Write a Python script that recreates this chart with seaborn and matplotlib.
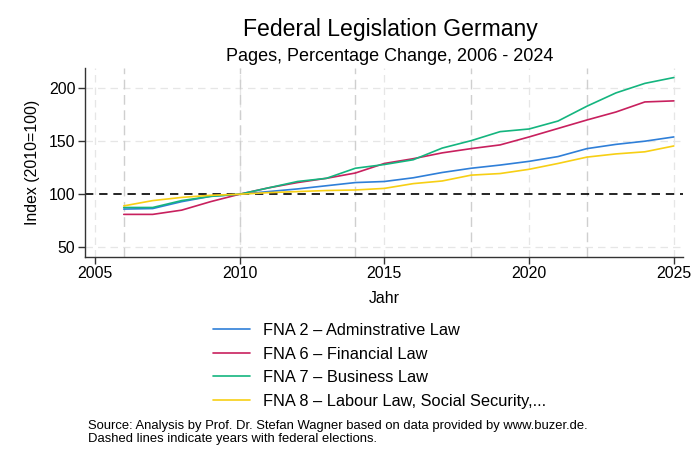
import numpy as np
import pandas as pd
import matplotlib
matplotlib.use("Agg")
import matplotlib.pyplot as plt
import seaborn as sns

years = list(range(2006, 2026))
fna2 = [86, 86.5, 93, 98, 100, 102.5, 105, 108, 111, 112, 115.5, 120.5, 124.5, 127.5, 131, 135.5, 143, 147, 150, 154]
fna6 = [81, 81, 85, 93, 100, 106, 111, 115, 120, 129, 133.5, 139, 143, 146.5, 154, 162, 170, 177.5, 187, 188]
fna7 = [87.5, 87.5, 94, 98, 100, 106, 112, 115, 124.5, 128, 132.5, 143.5, 150.5, 159, 161.5, 169, 183, 195.5, 204.5, 210]
fna8 = [89, 94, 97, 99, 100, 101.5, 102.5, 103.5, 104, 105.5, 110, 112.5, 118, 119.5, 123.5, 129, 135, 138, 140, 145.5]
series_names = ["FNA 2 \u2013 Adminstrative Law", "FNA 6 \u2013 Financial Law",
                "FNA 7 \u2013 Business Law", "FNA 8 \u2013 Labour Law, Social Security,..."]
election_years = [2006, 2010, 2014, 2018, 2022]
x_ticks = [2005, 2010, 2015, 2020, 2025]
y_ticks = [50, 100, 150, 200]
colors = ["#2f7fd8", "#c8205e", "#14b57f", "#f7cf14"]

df = pd.DataFrame({
    "Jahr": years * 4,
    "value": fna2 + fna6 + fna7 + fna8,
    "series": sum([[n] * len(years) for n in series_names], []),
})

sns.set_theme(style="white")
plt.rcParams["font.family"] = ["Liberation Sans", "DejaVu Sans"]
plt.rcParams["text.color"] = "black"
plt.rcParams["axes.labelcolor"] = "black"
plt.rcParams["xtick.color"] = "black"
plt.rcParams["ytick.color"] = "black"

fig = plt.figure(figsize=(7, 4.67), dpi=100)
ax = fig.add_axes([0.1214, 0.4503, 0.854, 0.4041])

for xt in x_ticks:
    ax.axvline(xt, color="#e6e6e6", lw=0.9, ls=(0, (6, 4)), zorder=0)
for yt in y_ticks:
    if yt != 100:
        ax.axhline(yt, color="#e6e6e6", lw=0.9, ls=(0, (6, 4)), zorder=0)
for ey in election_years:
    ax.axvline(ey, color="#cfcfcf", lw=1.0, ls=(0, (7, 4)), zorder=0.5)
ax.axhline(100, color="black", lw=1.2, ls=(0, (5, 3.5)), zorder=1)

sns.lineplot(data=df, x="Jahr", y="value", hue="series", palette=colors,
             hue_order=series_names, lw=1.2, ax=ax, legend=True, zorder=3)

ax.set_xlim(2004.66, 2025.31)
ax.set_ylim(41.1, 219)
ax.set_xticks(x_ticks)
ax.set_yticks(y_ticks)
ax.tick_params(axis="both", labelsize=11.4, length=5, width=1, color="#333333",
               labelcolor="black", direction="out", bottom=True, left=True, pad=2)
for s in ["top", "right"]:
    ax.spines[s].set_visible(False)
for s in ["left", "bottom"]:
    ax.spines[s].set_color("#333333")
    ax.spines[s].set_linewidth(1.0)
ax.set_xlabel("Jahr", fontsize=11.4, labelpad=7, color="black")
ax.set_ylabel("Index (2010=100)", fontsize=11.4, labelpad=6, color="black")

handles, labels = ax.get_legend_handles_labels()
leg = ax.legend(handles, labels, loc="upper left", bbox_to_anchor=(0.304, 0.308),
                bbox_transform=fig.transFigure, frameon=False, fontsize=11.75,
                handlelength=2.3, handletextpad=0.75, labelspacing=0.52, borderpad=0, borderaxespad=0)
for t in leg.get_texts():
    t.set_color("black")

fig.text(0.557, 0.936, "Federal Legislation Germany", ha="center", va="center", fontsize=16.6)
fig.text(0.557, 0.878, "Pages, Percentage Change, 2006 - 2024", ha="center", va="center", fontsize=13)
fig.text(0.126, 0.073, "Source: Analysis by Prof. Dr. Stefan Wagner based on data provided by www.buzer.de.\nDashed lines indicate years with federal elections.",
         ha="left", va="center", fontsize=9.4, linespacing=1.1)

fig.savefig("out.png", dpi=100)
